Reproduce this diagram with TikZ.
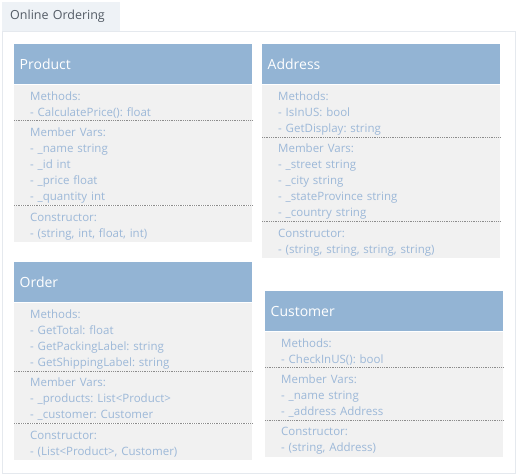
\documentclass[tikz,border=0pt]{standalone}
\usepackage{fontspec}
\setmainfont{Open Sans}
\usetikzlibrary{positioning}
\frenchspacing
\definecolor{headfill}{RGB}{147, 180, 212}
\definecolor{bodyfill}{RGB}{241, 241, 241}
\definecolor{bodytext}{RGB}{156, 184, 216}
\definecolor{sepline}{RGB}{140, 140, 140}
\definecolor{tabfill}{RGB}{238, 242, 246}
\definecolor{frameline}{RGB}{229, 233, 238}
\definecolor{tabtext}{RGB}{84, 92, 102}
\newcommand{\parttop}{\rule{0pt}{13.5pt}}
\newcommand{\partbot}{\rule[-2.5pt]{0pt}{0pt}}
\tikzstyle{tabbox}    = [rectangle, anchor=north west, minimum height=29pt, text width=102pt,
                         inner xsep=8pt, inner ysep=0pt, align=left, fill=tabfill,
                         text=tabtext, font=\fontsize{12.5}{15}\selectfont]
\tikzstyle{classhead} = [rectangle, anchor=north west, minimum height=40pt, text width=227pt,
                         inner xsep=5.5pt, inner ysep=0pt, align=left, fill=headfill,
                         text=white, font=\fontsize{14}{16}\selectfont]
\tikzstyle{classpart} = [rectangle, text width=206pt, inner xsep=16pt, inner ysep=2pt,
                         align=left, fill=bodyfill, text=bodytext,
                         font=\fontsize{11.5}{16}\selectfont,
                         execute at begin node=\parttop, execute at end node=\partbot]
\tikzstyle{sepline}   = [draw=sepline, densely dotted, line width=0.8pt]

\begin{document}
\begin{tikzpicture}[x=1pt, y=-1pt, node distance=0pt]
  \useasboundingbox (0,0) rectangle (517,475);

  % Frame and tab
  \draw [frameline] (2,31) rectangle (515,473);
  \node (tab)      [tabbox] at (2,2) {Online Ordering};

  % Product
  \node (prod)     [classhead] at (14,44) {Product};
  \node (prodmeth) [classpart, below=of prod]
                   {Methods:\\- CalculatePrice(): float};
  \node (prodvars) [classpart, below=of prodmeth]
                   {Member Vars:\\- \_name string\\- \_id int\\- \_price float\\- \_quantity int};
  \node (prodctor) [classpart, below=of prodvars]
                   {Constructor:\\- (string, int, float, int)};

  % Address
  \node (addr)     [classhead] at (262,44) {Address};
  \node (addrmeth) [classpart, below=of addr]
                   {Methods:\\- IsInUS: bool\\- GetDisplay: string};
  \node (addrvars) [classpart, below=of addrmeth]
                   {Member Vars:\\- \_street string\\- \_city string\\- \_stateProvince string\\- \_country string};
  \node (addrctor) [classpart, below=of addrvars]
                   {Constructor:\\- (string, string, string, string)};

  % Order
  \node (ord)      [classhead] at (14,262) {Order};
  \node (ordmeth)  [classpart, below=of ord]
                   {Methods:\\- GetTotal: float\\- GetPackingLabel: string\\- GetShippingLabel: string};
  \node (ordvars)  [classpart, below=of ordmeth]
                   {Member Vars:\\- \_products: List<Product>\\- \_customer: Customer};
  \node (ordctor)  [classpart, below=of ordvars]
                   {Constructor:\\- (List<Product>, Customer)};

  % Customer
  \node (cust)     [classhead] at (265,291) {Customer};
  \node (custmeth) [classpart, below=of cust]
                   {Methods:\\- CheckInUS(): bool};
  \node (custvars) [classpart, below=of custmeth]
                   {Member Vars:\\- \_name string\\- \_address Address};
  \node (custctor) [classpart, below=of custvars]
                   {Constructor:\\- (string, Address)};

  % Separators
  \draw [sepline] (prodvars.north west) -- (prodvars.north east);
  \draw [sepline] (prodctor.north west) -- (prodctor.north east);
  \draw [sepline] (addrvars.north west) -- (addrvars.north east);
  \draw [sepline] (addrctor.north west) -- (addrctor.north east);
  \draw [sepline] (ordvars.north west)  -- (ordvars.north east);
  \draw [sepline] (ordctor.north west)  -- (ordctor.north east);
  \draw [sepline] (custvars.north west) -- (custvars.north east);
  \draw [sepline] (custctor.north west) -- (custctor.north east);
\end{tikzpicture}
\end{document}
